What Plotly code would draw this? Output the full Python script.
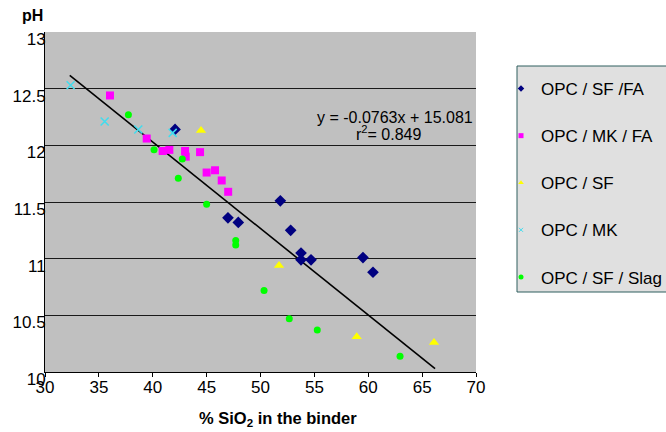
import plotly.graph_objects as go

# OPC / SF / FA
sffa_x = [42.07, 51.84, 46.98, 47.94, 52.80, 53.76, 53.76, 54.69, 59.51, 60.44]
sffa_y = [12.14, 11.51, 11.36, 11.32, 11.25, 11.05, 10.99, 10.99, 11.01, 10.88]
# OPC / MK / FA
mkfa_x = [36.03, 39.44, 40.92, 41.54, 43.0, 43.06, 44.39, 45.0, 45.78, 46.4, 47.0]
mkfa_y = [12.44, 12.06, 11.95, 11.96, 11.95, 11.90, 11.94, 11.76, 11.78, 11.69, 11.59]
# OPC / SF
sf_x = [44.48, 51.72, 58.93, 66.1]
sf_y = [12.13, 10.94, 10.31, 10.26]
# OPC / MK
mk_x = [32.38, 35.54, 38.66, 41.85]
mk_y = [12.53, 12.21, 12.14, 12.11]
# OPC / SF / Slag
slag_x = [37.74, 40.12, 42.74, 42.37, 45.0, 47.7, 47.7, 50.33, 52.67, 55.27, 62.95]
slag_y = [12.27, 11.96, 11.88, 11.71, 11.48, 11.16, 11.12, 10.72, 10.47, 10.37, 10.14]

# trend line y = -0.0763x + 15.081
slope = -0.0763
intercept = 15.081
trend_x = [32.3, 66.2]
trend_y = [slope * v + intercept for v in trend_x]

x_ticks = [30, 35, 40, 45, 50, 55, 60, 65, 70]
y_ticks = [10, 10.5, 11, 11.5, 12, 12.5, 13]
y_tick_text = ["10", "10.5", "11", "11.5", "12", "12.5", "13"]

FONT = "Arial, Liberation Sans, sans-serif"

# plot-area geometry in pixels (used only to place annotations / legend box)
L, R, T, B = 45, 476, 32, 372
W, H = R - L, B - T


def px(xp):
    return (xp - L) / W


def py(yp):
    return (B - yp) / H


fig = go.Figure()

fig.add_trace(go.Scatter(x=trend_x, y=trend_y, mode="lines",
                         line=dict(color="black", width=1.6), showlegend=False,
                         hoverinfo="skip"))

series = [
    ("OPC / SF /FA", sffa_x, sffa_y, "diamond", "#000080", 9),
    ("OPC / MK / FA", mkfa_x, mkfa_y, "square", "#ff00ff", 8),
    ("OPC / SF", sf_x, sf_y, "triangle-up", "#ffff00", 9),
    ("OPC / MK", mk_x, mk_y, "x-thin", "#40dcee", 8),
    ("OPC / SF / Slag", slag_x, slag_y, "circle", "#00ff00", 7),
]
for i, (name, xs, ys, sym, col, sz) in enumerate(series):
    if sym == "x-thin":
        mk = dict(symbol=sym, size=sz, color=col, line=dict(color=col, width=1.5))
    else:
        mk = dict(symbol=sym, size=sz, color=col, line=dict(width=0))
    fig.add_trace(go.Scatter(x=xs, y=ys, mode="markers", name=name, marker=mk,
                             legendgroup=str(i), showlegend=False))
    if sym == "x-thin":
        lmk = dict(symbol=sym, size=4, color=col, line=dict(color=col, width=1))
    else:
        lmk = dict(symbol=sym, size=5, color=col, line=dict(width=0))
    fig.add_trace(go.Scatter(x=[None], y=[None], mode="markers", name=name,
                             marker=lmk, legendgroup=str(i), showlegend=True))

fig.add_annotation(xref="paper", yref="paper", x=px(395), y=py(117),
                   text="y = -0.0763x + 15.081", showarrow=False,
                   font=dict(family=FONT, size=16, color="black"),
                   xanchor="center", yanchor="middle")
fig.add_annotation(xref="paper", yref="paper", x=px(388), y=py(133),
                   text="r<sup>2</sup>= 0.849", showarrow=False,
                   font=dict(family=FONT, size=16, color="black"),
                   xanchor="center", yanchor="middle")
fig.add_annotation(xref="paper", yref="paper", x=px(32), y=py(16),
                   text="<b>pH</b>", showarrow=False,
                   font=dict(family=FONT, size=16, color="black"),
                   xanchor="center", yanchor="middle")
fig.add_annotation(xref="paper", yref="paper", x=px(278), y=py(419),
                   text="<b>% SiO<sub>2</sub> in the binder</b>", showarrow=False,
                   font=dict(family=FONT, size=16.5, color="black"),
                   xanchor="center", yanchor="middle")

# legend frame
fig.add_shape(type="rect", xref="paper", yref="paper",
              x0=px(517), x1=px(720), y0=py(292), y1=py(66),
              fillcolor="#e0e0e0", line=dict(color="#2f5f5f", width=1), layer="below")

fig.update_layout(
    width=666, height=432,
    margin=dict(l=L, r=666 - R, t=T, b=432 - B, autoexpand=False),
    paper_bgcolor="white",
    plot_bgcolor="#c0c0c0",
    font=dict(family=FONT, size=17, color="black"),
    xaxis=dict(range=[30, 70], tickvals=x_ticks, showgrid=False, zeroline=False,
               showline=True, linecolor="black", linewidth=1,
               ticks="outside", ticklen=4, tickcolor="black",
               ticklabelstandoff=-4, automargin=False,
               tickfont=dict(family=FONT, size=17, color="black")),
    yaxis=dict(range=[10, 13], tickvals=y_ticks, ticktext=y_tick_text,
               showgrid=True, gridcolor="#1a1a1a", gridwidth=1, zeroline=False,
               showline=True, linecolor="black", linewidth=1,
               ticks="", ticklabelstandoff=-5, ticklabelshift=7, automargin=False,
               tickfont=dict(family=FONT, size=17, color="black")),
    legend=dict(x=px(501), xanchor="left", y=py(71), yanchor="top",
                bgcolor="rgba(0,0,0,0)", borderwidth=0,
                font=dict(family=FONT, size=17, color="black"),
                tracegroupgap=22, itemwidth=30),
    showlegend=True,
)

fig.write_html("out.html", config={"displayModeBar": False},
               post_script="document.body.style.margin='0';document.body.style.padding='0';")
